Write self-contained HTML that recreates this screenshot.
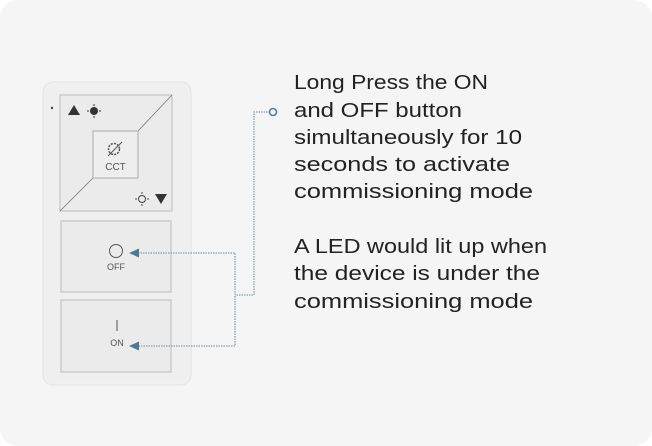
<!DOCTYPE html>
<html><head><meta charset="utf-8"><style>
html,body{margin:0;padding:0;background:#fff;}
svg{display:block}
</style></head><body>
<svg width="652" height="446" viewBox="0 0 652 446" xmlns="http://www.w3.org/2000/svg">
<rect x="0" y="0" width="652" height="446" rx="18" fill="#f5f5f5"/>
<!-- device -->
<rect x="43" y="82" width="148" height="303" rx="10" fill="#f0f0f0" stroke="#e2e2e2"/>
<rect x="46" y="85" width="142" height="297" rx="8" fill="#efefef"/>
<circle cx="52" cy="108" r="1.2" fill="#444"/>
<!-- top panel -->
<rect x="60" y="95" width="112" height="116" fill="#ebebeb" stroke="#c4c4c4" stroke-width="1.2"/>
<line x1="60" y1="211" x2="93" y2="178" stroke="#777" stroke-width="0.8"/>
<line x1="172" y1="95" x2="138" y2="131" stroke="#777" stroke-width="0.8"/>
<rect x="93" y="131" width="45" height="47" fill="#eeeeee" stroke="#aaa" stroke-width="1"/>
<text x="115.5" y="170" font-family="Liberation Sans, sans-serif" font-size="10" fill="#555" text-anchor="middle">CCT</text>
<circle cx="114" cy="149" r="5.5" fill="none" stroke="#555" stroke-width="1.5" stroke-dasharray="2 1.2"/>
<line x1="108" y1="156" x2="122" y2="142" stroke="#555" stroke-width="1"/>
<path d="M68 115 L74 105 L80 115 Z" fill="#333"/>
<circle cx="94" cy="111" r="4" fill="#333"/>
<g stroke="#333" stroke-width="1"><line x1="94" y1="104" x2="94" y2="106"/><line x1="94" y1="116" x2="94" y2="118"/><line x1="87" y1="111" x2="89" y2="111"/><line x1="99" y1="111" x2="101" y2="111"/></g>
<circle cx="142" cy="199" r="3.5" fill="none" stroke="#444"/>
<g stroke="#444" stroke-width="1"><line x1="142" y1="192" x2="142" y2="194"/><line x1="142" y1="204" x2="142" y2="206"/><line x1="135" y1="199" x2="137" y2="199"/><line x1="147" y1="199" x2="149" y2="199"/></g>
<path d="M155 194 L167 194 L161 204 Z" fill="#333"/>
<!-- OFF -->
<rect x="61" y="221" width="110" height="71" fill="#ebebeb" stroke="#c4c4c4" stroke-width="1.2"/>
<circle cx="116" cy="251" r="6.5" fill="none" stroke="#555" stroke-width="1"/>
<text x="116" y="270" font-family="Liberation Sans, sans-serif" font-size="9" fill="#555" text-anchor="middle">OFF</text>
<!-- ON -->
<rect x="61" y="300" width="110" height="72" fill="#ebebeb" stroke="#c4c4c4" stroke-width="1.2"/>
<line x1="117" y1="320" x2="117" y2="331" stroke="#555" stroke-width="1"/>
<text x="117" y="346" font-family="Liberation Sans, sans-serif" font-size="9" fill="#555" text-anchor="middle">ON</text>
<!-- connectors -->
<g fill="none" stroke="#6a8aa0" stroke-width="1" stroke-dasharray="1.5 1">
<polyline points="270,112 254,112 254,295 235,295"/>
<polyline points="138,253 235,253 235,346 138,346"/>
</g>
<circle cx="273" cy="112" r="3.5" fill="#f5f5f5" stroke="#5a7d95" stroke-width="1.6"/>
<path d="M129 253 L139 248.5 L139 257.5 Z" fill="#4d7896"/>
<path d="M129 346 L139 341.5 L139 350.5 Z" fill="#4d7896"/>
<!-- text -->
<g font-family="Liberation Sans, sans-serif" font-size="20" fill="#222">
<text x="294" y="89" textLength="194" lengthAdjust="spacingAndGlyphs">Long Press the ON</text>
<text x="294" y="117" textLength="168" lengthAdjust="spacingAndGlyphs">and OFF button</text>
<text x="294" y="144" textLength="228" lengthAdjust="spacingAndGlyphs">simultaneously for 10</text>
<text x="294" y="171" textLength="216" lengthAdjust="spacingAndGlyphs">seconds to activate</text>
<text x="294" y="198" textLength="239" lengthAdjust="spacingAndGlyphs">commissioning mode</text>
<text x="294" y="253" textLength="253" lengthAdjust="spacingAndGlyphs">A LED would lit up when</text>
<text x="294" y="280" textLength="246" lengthAdjust="spacingAndGlyphs">the device is under the</text>
<text x="294" y="308" textLength="239" lengthAdjust="spacingAndGlyphs">commissioning mode</text>
</g>
</svg>
</body></html>
